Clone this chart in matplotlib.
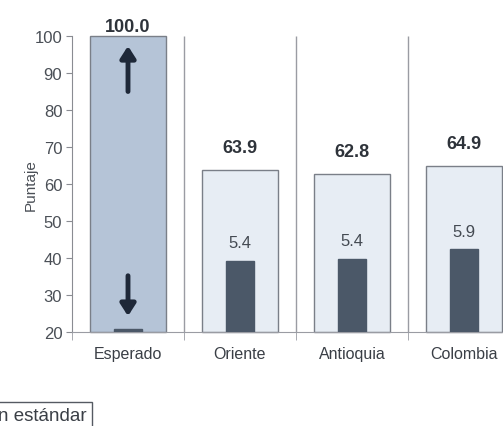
import numpy as np
import matplotlib.pyplot as plt
from matplotlib import font_manager

# datos
categorias = ["Esperado", "Oriente", "Antioquia", "Colombia"]
puntaje = [100.0, 63.9, 62.8, 64.9]
desviacion = [None, 5.4, 5.4, 5.9]
barra_desv = [20.8, 39.3, 39.8, 42.3]
base = 20

fuentes = [f.name for f in font_manager.fontManager.ttflist]
familia = ["Liberation Sans Narrow", "Liberation Sans", "DejaVu Sans"]
familia = [f for f in familia if f in fuentes] or ["DejaVu Sans"]
plt.rcParams["font.family"] = familia

fig = plt.figure(figsize=(5.03, 4.27), dpi=100)
ax = fig.add_axes([72 / 503, 94 / 427, 448 / 503, 296 / 427])

x = np.arange(len(categorias))
colores = ["#b5c4d7"] + ["#e7edf4"] * 3
alto = [v - base for v in puntaje]
alto_desv = [v - base for v in barra_desv]
ax.bar(x, alto, bottom=base, width=0.68, color=colores, edgecolor="#7a7f88", linewidth=1, clip_on=False, zorder=2)
ax.bar(x, alto_desv, bottom=base, width=0.25, color="#4b5868", edgecolor="#4b5868", zorder=3)

ax.vlines([0.5, 1.5, 2.5], 20, 100, color="#9a9ca3", linewidth=1, zorder=1)

for i, v in enumerate(puntaje):
    y = v + 3.7 if v < 100 else 100.4
    ax.text(i, y, f"{v:.1f}", ha="center", va="bottom", fontsize=13, fontweight="bold", color="#2e333a")
for i, d in enumerate(desviacion):
    if d is None:
        continue
    ax.text(i, barra_desv[i] + 2.8, f"{d:.1f}", ha="center", va="bottom", fontsize=12, color="#444a52")

# flechas en la barra esperada
flecha = dict(arrowstyle="-|>,head_width=0.45,head_length=0.7", color="#1e2838", lw=3.5, shrinkA=0, shrinkB=0)
ax.annotate("", xy=(0, 97.3), xytext=(0, 85), arrowprops=flecha, zorder=4)
ax.annotate("", xy=(0, 24.3), xytext=(0, 35.2), arrowprops=flecha, zorder=4)

ax.set_xlim(-0.5, 3.5)
ax.set_ylim(20, 100)
ax.set_yticks(range(20, 101, 10))
ax.set_xticks(x)
ax.set_xticklabels(categorias)
ax.set_xticks(np.arange(-0.5, 4, 1), minor=True)
ax.tick_params(axis="x", which="major", length=0, pad=10, labelsize=11.5, labelcolor="#3a3f46")
ax.tick_params(axis="x", which="minor", length=6, color="#9a9ca3")
ax.tick_params(axis="y", length=4, color="#8a8c92", labelsize=12, labelcolor="#4a4f56", pad=3)
ax.set_ylabel("Puntaje", fontsize=11, color="#4a4f56", labelpad=-2)

for s in ["top", "right"]:
    ax.spines[s].set_visible(False)
ax.spines["left"].set_color("#8a8c92")
ax.spines["bottom"].set_color("#9a9ca3")

fig.text(87 / 503, 6 / 427, "Desviación estándar", ha="right", va="baseline", fontsize=13.5, color="#3a3f46",
         bbox=dict(boxstyle="square,pad=0.25", fc="white", ec="#555a62", lw=1))

fig.savefig("out.png", dpi=100)
